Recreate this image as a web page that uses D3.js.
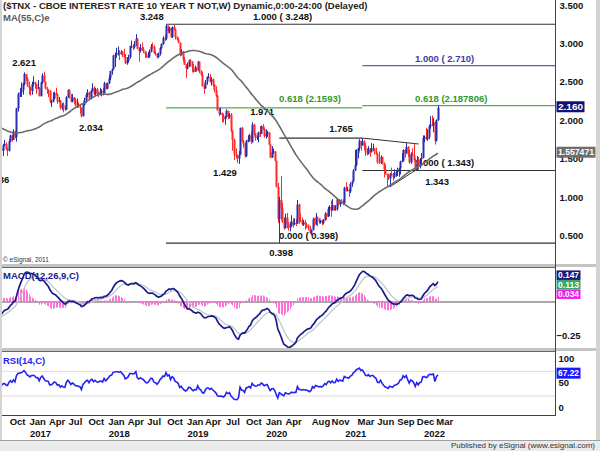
<!DOCTYPE html>
<meta charset="utf-8">
<style>
body { margin: 0; background: #fff; }
svg text { font-family: "Liberation Sans", Arial, sans-serif; font-weight: bold; font-size: 9.5px; }
</style>
<svg width="600" height="451"></svg>
<script src="https://cdn.jsdelivr.net/npm/d3@7/dist/d3.min.js"></script>
<script>

// weekly closes, one per friday starting 2015-08-07 (first year only feeds MA / MACD / RSI)
var firstWeek = new Date(2015, 7, 7);
var drawFrom = 47; // 2016-07-01, first bar with high/low

var closes = [
  // 2015
  2.17,2.20,2.05,2.18, 2.13,2.19,2.13,2.17, 1.99,2.09,2.03,2.08,2.14, 2.33,2.27,2.26,2.22, 2.27,2.13,2.20,2.25,
  // 2016
  2.27,2.12,2.03,2.05,1.93, 1.84,1.74,1.75,1.76, 1.88,1.98,1.87,1.90, 1.78,1.72,1.75,1.89,1.83, 1.78,1.70,1.84,1.85, 1.70,1.64,1.61,1.56,
  1.44,1.36,1.55,1.57,1.45, 1.59,1.51,1.58,1.63, 1.60,1.67,1.69,1.62,1.60, 1.72,1.80,1.74,1.85, 1.78,2.15,2.34,2.36, 2.39,2.47,2.60,2.54,2.45,
  // 2017
  2.42,2.38,2.47,2.49, 2.47,2.41,2.42,2.31, 2.49,2.58,2.50,2.41,2.39, 2.38,2.24,2.24,2.28, 2.35,2.33,2.24,2.25, 2.16,2.20,2.15,2.14,2.30,
  2.39,2.33,2.24,2.29, 2.26,2.19,2.19,2.17, 2.16,2.05,2.20,2.26,2.33, 2.36,2.28,2.38,2.42, 2.34,2.40,2.35,2.34, 2.37,2.38,2.35,2.48,2.41,
  // 2018
  2.48,2.55,2.64,2.66, 2.84,2.85,2.87,2.87, 2.86,2.89,2.85,2.82,2.74, 2.77,2.82,2.96,2.96, 2.95,2.97,3.06,2.93, 2.90,2.94,2.92,2.90,2.86,
  2.82,2.83,2.89,2.96, 2.95,2.87,2.86,2.82,2.86, 2.94,2.99,3.07,3.06, 3.23,3.16,3.20,3.08, 3.21,3.18,3.08,3.05,3.01, 2.85,2.89,2.79,2.72,
  // 2019
  2.67,2.70,2.78,2.76, 2.69,2.63,2.66,2.65, 2.76,2.63,2.59,2.44,2.41, 2.50,2.56,2.56,2.50, 2.53,2.46,2.39,2.32,2.13, 2.08,2.09,2.06,2.01,
  2.04,2.12,2.05,2.07, 1.86,1.74,1.55,1.53,1.50, 1.55,1.90,1.72,1.69, 1.53,1.73,1.75,1.80, 1.71,1.94,1.83,1.77,1.78, 1.84,1.82,1.92,1.88,
  // 2020
  1.79,1.82,1.84,1.68,1.51, 1.58,1.59,1.47,1.13, 0.71,0.96,0.85,0.67, 0.59,0.73,0.65,0.60, 0.62,0.68,0.64,0.66,0.65, 0.90,0.70,0.69,0.64,
  0.67,0.64,0.63,0.59,0.53, 0.57,0.71,0.64,0.74, 0.72,0.67,0.69,0.66, 0.70,0.78,0.74,0.84,0.87, 0.82,0.89,0.83,0.84, 0.97,0.90,0.95,0.94,
  // 2021
  0.92,1.12,1.09,1.09,1.07, 1.17,1.20,1.34,1.41, 1.57,1.63,1.73,1.67, 1.72,1.66,1.58,1.56,1.63, 1.58,1.63,1.63,1.59, 1.56,1.45,1.44,1.52,
  1.43,1.36,1.30,1.28,1.24, 1.30,1.28,1.26,1.31, 1.32,1.34,1.37,1.46, 1.47,1.61,1.57,1.65,1.55, 1.45,1.56,1.54,1.48, 1.35,1.48,1.40,1.49,1.51,
  // 2022
  1.77,1.78,1.75,1.78, 1.92,1.94,1.93,1.97, 1.73,2.00,2.16
];

var highs = [
  1.60,1.47,1.60,1.62,1.60, 1.60,1.60,1.62,1.64, 1.63,1.69,1.74,1.71,1.64, 1.75,1.81,1.80,1.88, 1.86,2.16,2.36,2.42, 2.49,2.49,2.621,2.60,2.56,
  2.50,2.43,2.50,2.57, 2.50,2.47,2.52,2.43, 2.50,2.61,2.63,2.50,2.43, 2.40,2.39,2.26,2.36, 2.37,2.42,2.35,2.30, 2.26,2.22,2.23,2.19,2.31,
  2.40,2.40,2.34,2.34, 2.30,2.29,2.28,2.23, 2.20,2.16,2.21,2.29,2.35, 2.40,2.37,2.39,2.48, 2.44,2.42,2.42,2.37, 2.42,2.40,2.42,2.50,2.48,
  2.49,2.59,2.64,2.67, 2.85,2.88,2.94,2.96, 2.91,2.91,2.90,2.93,2.86, 2.82,2.85,2.97,3.035, 2.99,3.03,3.12,3.07, 2.95,2.99,3.01,2.95,2.90,
  2.88,2.89,2.92,2.99, 3.01,2.98,2.90,2.87,2.88, 2.95,3.00,3.09,3.11, 3.248,3.23,3.21,3.20, 3.22,3.24,3.19,3.09,3.07, 3.01,2.92,2.90,2.82,
  2.73,2.75,2.79,2.79, 2.77,2.73,2.71,2.69, 2.77,2.76,2.65,2.63,2.46, 2.52,2.57,2.61,2.60, 2.56,2.54,2.47,2.44,2.33, 2.16,2.16,2.10,2.08,
  2.05,2.14,2.12,2.09, 2.09,1.87,1.76,1.63,1.55, 1.60,1.90,1.91,1.74, 1.70,1.74,1.80,1.82, 1.85,1.971,1.95,1.83,1.80, 1.85,1.92,1.93,1.95,
  1.90,1.88,1.86,1.84,1.68, 1.66,1.63,1.60,1.47, 1.18,1.00,1.27,0.92, 0.73,0.78,0.79,0.67, 0.67,0.76,0.72,0.72,0.71, 0.96,0.91,0.78,0.73,
  0.70,0.70,0.66,0.64,0.62, 0.57,0.73,0.72,0.79, 0.74,0.72,0.70,0.70, 0.71,0.80,0.79,0.87,0.89, 0.95,0.97,0.89,0.89, 0.98,0.97,0.96,0.97,
  0.97,1.13,1.19,1.13,1.10, 1.19,1.21,1.36,1.61, 1.62,1.64,1.75,1.73, 1.765,1.74,1.70,1.63,1.66, 1.63,1.70,1.69,1.62, 1.64,1.57,1.59,1.54,
  1.52,1.45,1.42,1.30,1.30, 1.31,1.38,1.31,1.36, 1.34,1.38,1.38,1.47, 1.57,1.62,1.62,1.70,1.66, 1.61,1.58,1.63,1.69, 1.50,1.53,1.52,1.50,1.57,
  1.80,1.80,1.90,1.88, 1.94,2.05,2.06,2.03, 1.98,2.01,2.19
];

var lows = [
  1.38,1.336,1.36,1.53,1.45, 1.44,1.50,1.50,1.53, 1.54,1.53,1.66,1.61,1.53, 1.59,1.71,1.72,1.74, 1.76,1.72,2.11,2.30, 2.30,2.33,2.45,2.51,2.43,
  2.33,2.32,2.33,2.44, 2.41,2.34,2.40,2.31, 2.31,2.47,2.49,2.40,2.34, 2.30,2.22,2.17,2.23, 2.27,2.32,2.21,2.23, 2.14,2.13,2.10,2.12,2.13,
  2.29,2.28,2.23,2.23, 2.21,2.18,2.16,2.16, 2.09,2.034,2.05,2.19,2.22, 2.30,2.27,2.27,2.37, 2.32,2.31,2.31,2.30, 2.32,2.31,2.32,2.35,2.40,
  2.40,2.47,2.52,2.59, 2.66,2.69,2.81,2.84, 2.78,2.85,2.82,2.81,2.73, 2.72,2.75,2.80,2.94, 2.91,2.93,2.97,2.92, 2.76,2.88,2.90,2.87,2.81,
  2.81,2.81,2.81,2.88, 2.93,2.86,2.84,2.80,2.81, 2.84,2.92,2.98,3.03, 3.04,3.13,3.13,3.07, 3.07,3.17,3.05,3.04,3.00, 2.83,2.84,2.76,2.72,
  2.55,2.66,2.69,2.70, 2.62,2.62,2.63,2.63, 2.64,2.61,2.58,2.44,2.34, 2.41,2.46,2.55,2.49, 2.45,2.43,2.36,2.30,2.12, 2.05,2.07,1.97,1.97,
  1.94,2.03,2.01,2.02, 1.84,1.60,1.48,1.50,1.44, 1.429,1.55,1.72,1.64, 1.51,1.52,1.71,1.72, 1.69,1.71,1.80,1.73,1.74, 1.71,1.78,1.82,1.87,
  1.77,1.76,1.78,1.67,1.51, 1.51,1.56,1.46,1.12, 0.66,0.398,0.70,0.66, 0.57,0.59,0.59,0.56, 0.55,0.61,0.60,0.63,0.62, 0.65,0.65,0.67,0.63,
  0.62,0.57,0.59,0.56,0.52, 0.50,0.56,0.62,0.63, 0.62,0.65,0.65,0.63, 0.64,0.69,0.70,0.74,0.75, 0.74,0.82,0.82,0.82, 0.82,0.88,0.87,0.91,
  0.89,0.90,1.07,1.07,1.00, 1.05,1.13,1.20,1.34, 1.40,1.50,1.60,1.60, 1.67,1.61,1.53,1.54,1.55, 1.52,1.58,1.60,1.55, 1.55,1.43,1.43,1.43,
  1.42,1.25,1.29,1.13,1.22, 1.128,1.27,1.21,1.24, 1.26,1.27,1.26,1.29, 1.45,1.46,1.51,1.56,1.52, 1.43,1.43,1.53,1.46, 1.343,1.35,1.38,1.37,1.41,
  1.50,1.71,1.74,1.73, 1.75,1.89,1.92,1.84, 1.68,1.72,1.99
];

var priceTicks = [0.5, 1.0, 1.5, 2.0, 2.5, 3.0, 3.5];
var rsiTicks = [0, 50, 100];
var rsiBands = [25, 75];
var macdTicks = [-0.25];

var monthTicks = [
  ["2016-10-01","Oct"],["2017-01-01","Jan"],["2017-04-01","Apr"],["2017-07-01","Jul"],["2017-10-01","Oct"],
  ["2018-01-01","Jan"],["2018-04-01","Apr"],["2018-07-01","Jul"],["2018-10-01","Oct"],
  ["2019-01-01","Jan"],["2019-03-25","Apr"],["2019-07-01","Jul"],["2019-10-01","Oct"],
  ["2020-01-01","Jan"],["2020-04-01","Apr"],["2020-08-01","Aug"],["2020-11-01","Nov"],
  ["2021-03-01","Mar"],["2021-06-01","Jun"],["2021-09-01","Sep"],["2021-12-01","Dec"],["2022-03-01","Mar"]
];
var yearTicks = [["2017-01-01","2017"],["2018-01-01","2018"],["2019-01-01","2019"],["2020-01-01","2020"],["2021-01-01","2021"],["2022-01-01","2022"]];

// swing high / low labels: text, date and price where the label sits
var swingLabels = [
  ["1.336","2016-08-15",1.213],["2.621","2016-12-16",2.731],["2.034","2017-10-22",1.896],
  ["3.248","2018-07-31",3.33],["1.429","2019-07-05",1.304],["1.971","2019-12-24",2.105],
  ["0.398","2020-03-21",0.268],["1.765","2020-12-24",1.877],["1.343","2022-03-14",1.193]
];

// fibonacci levels: price, from, to (null = right edge), colour
var fibLines = [
  [3.248,"2018-10-05",null,"#333"],
  [2.1593,"2018-10-05","2021-04-02","#4cae4c"],
  [0.398,"2018-10-05",null,"#333"],
  [2.187806,"2021-04-02",null,"#4cae4c"],
  [2.710,"2021-04-02",null,"#5a5abf"],
  [1.343,"2021-04-02",null,"#333"],
  [1.765,"2020-03-13","2021-04-02","#333"]
];
var fibLabels = [
  ["1.000 ( 3.248)","2019-11-12",3.336,"#111"],
  ["0.618 (2.1593)","2020-03-12",2.262,"#2f9a2f"],
  ["0.000 ( 0.398)","2020-03-12",0.477,"#111"],
  ["1.000 ( 2.710)","2021-12-02",2.783,"#3c3ca6"],
  ["0.618 (2.187806)","2021-12-02",2.262,"#2f9a2f"],
  ["1.000 ( 1.343)","2021-12-02",1.428,"#111"]
];
// triangle trendlines
var trendLines = [
  [["2021-04-02",1.765],["2021-12-19",1.688]],
  [["2021-08-06",1.128],["2021-12-19",1.372]]
];

var lastPriceLabel = "2.160";
var maLabel = "1.557471";
var macdLabels = [["0.147","#1a1a7e"],["0.113","#3aa86a"],["0.034","#f01ef0"]];
var rsiLabel = "67.22";

var parse = d3.timeParse("%Y-%m-%d");
var weeks = closes.map(function(c, i) { return d3.timeDay.offset(firstWeek, 7 * i); });

// ---- indicators
function ema(arr, n) {
  var k = 2 / (n + 1), prev;
  return arr.map(function(v, i) { prev = i === 0 ? v : v * k + prev * (1 - k); return prev; });
}
var ma = closes.map(function(c, i) { return i < 54 ? null : d3.mean(closes.slice(i - 54, i + 1)); });
var e12 = ema(closes, 12), e26 = ema(closes, 26);
var macd = closes.map(function(c, i) { return e12[i] - e26[i]; });
var signal = ema(macd, 9);
var hist = macd.map(function(m, i) { return m - signal[i]; });
var rsi = [], ag = 0, al = 0;
closes.forEach(function(c, i) {
  if (i === 0) { rsi.push(null); return; }
  var ch = c - closes[i - 1], g = Math.max(ch, 0), l = Math.max(-ch, 0);
  if (i <= 14) { ag += g / 14; al += l / 14; rsi.push(i < 14 ? null : 100 - 100 / (1 + ag / al)); return; }
  ag = (ag * 13 + g) / 14; al = (al * 13 + l) / 14;
  rsi.push(100 - 100 / (1 + ag / al));
});

// ---- layout
var svg = d3.select("svg");
var L = 2, R = 555.5;
var x = d3.scaleTime().domain([new Date(2017, 0, 1), new Date(2022, 0, 1)]).range([27.5, 421.5]);
var y = d3.scaleLinear().domain([0.5, 3.5]).range([235.2, 4.9]);
var ym = d3.scaleLinear().domain([-0.25, 0]).range([336.5, 302]);
var yr = d3.scaleLinear().domain([0, 100]).range([408.3, 359]);

svg.append("rect").attr("width", 600).attr("height", 451).attr("fill", "#d4d4d4");
svg.append("rect").attr("x", L).attr("width", 594).attr("height", 440).attr("fill", "#fff");

var defs = svg.append("defs");
function clip(id, y0, y1) {
  defs.append("clipPath").attr("id", id).append("rect").attr("x", L).attr("y", y0).attr("width", R - L).attr("height", y1 - y0);
  return svg.append("g").attr("clip-path", "url(#" + id + ")");
}
var gMain = clip("cm", 0, 264), gMacd = clip("cd", 268, 348), gRsi = clip("cr", 352, 415);

// ---- main panel
fibLines.forEach(function(f) {
  gMain.append("line")
    .attr("x1", x(parse(f[1]))).attr("x2", f[2] ? x(parse(f[2])) : R)
    .attr("y1", y(f[0])).attr("y2", y(f[0]))
    .attr("stroke", f[3]).attr("stroke-width", 1.2);
});
trendLines.forEach(function(t) {
  gMain.append("line")
    .attr("x1", x(parse(t[0][0]))).attr("y1", y(t[0][1]))
    .attr("x2", x(parse(t[1][0]))).attr("y2", y(t[1][1]))
    .attr("stroke", "#333").attr("stroke-width", 1);
});
fibLabels.forEach(function(f) {
  gMain.append("text").attr("x", x(parse(f[1]))).attr("y", y(f[2]))
    .attr("dominant-baseline", "middle").attr("fill", f[3]).text(f[0]);
});
swingLabels.forEach(function(s) {
  gMain.append("text").attr("x", x(parse(s[1]))).attr("y", y(s[2]))
    .attr("text-anchor", "middle").attr("dominant-baseline", "middle").attr("fill", "#111").text(s[0]);
});

var bars = d3.range(drawFrom, closes.length).map(function(i) {
  return { date: weeks[i], o: closes[i - 1], c: closes[i], h: highs[i - drawFrom], l: lows[i - drawFrom] };
});
var bar = gMain.append("g").selectAll("g").data(bars).enter().append("g")
  .attr("fill", function(d) { return d.c >= d.o ? "#2c2cae" : "#ff2b2b"; })
  .attr("stroke", function(d) { return d.c >= d.o ? "#2c2cae" : "#ff2b2b"; });
bar.append("line")
  .attr("x1", function(d) { return Math.round(x(d.date)) + 0.5; })
  .attr("x2", function(d) { return Math.round(x(d.date)) + 0.5; })
  .attr("y1", function(d) { return y(Math.max(d.h, d.o, d.c)); })
  .attr("y2", function(d) { return y(Math.min(d.l, d.o, d.c)); })
  .attr("stroke-width", 1);
bar.append("rect")
  .attr("x", function(d) { return Math.round(x(d.date)) - 0.5; })
  .attr("width", 2).attr("stroke", "none")
  .attr("y", function(d) { return y(Math.max(d.o, d.c)); })
  .attr("height", function(d) { return Math.max(1, Math.abs(y(d.o) - y(d.c))); });

var maPts = weeks.map(function(w, i) { return [w, ma[i]]; }).filter(function(p) { return p[1] !== null; });
gMain.append("path").datum(maPts)
  .attr("d", d3.line().x(function(p) { return x(p[0]); }).y(function(p) { return y(p[1]); }))
  .attr("fill", "none").attr("stroke", "#6a6a6a").attr("stroke-width", 1.6);

svg.append("text").attr("x", 3).attr("y", 6.5).attr("dominant-baseline", "middle").attr("fill", "#222")
  .text("($TNX - CBOE INTEREST RATE 10 YEAR T NOT,W) Dynamic,0:00-24:00 (Delayed)");
svg.append("text").attr("x", 3).attr("y", 18).attr("dominant-baseline", "middle").attr("fill", "#5a5a5a").text("MA(55,C)e");
svg.append("text").attr("x", 3).attr("y", 260).attr("dominant-baseline", "middle").attr("fill", "#333")
  .style("font-size", "6.5px").style("font-weight", "normal").text("\u00a9 eSignal, 2011");

// ---- macd panel
gMacd.append("line").attr("x1", L).attr("x2", R).attr("y1", ym(0)).attr("y2", ym(0)).attr("stroke", "#555");
gMacd.append("g").selectAll("line").data(d3.range(drawFrom, closes.length)).enter().append("line")
  .attr("x1", function(i) { return Math.round(x(weeks[i])) + 0.5; })
  .attr("x2", function(i) { return Math.round(x(weeks[i])) + 0.5; })
  .attr("y1", ym(0)).attr("y2", function(i) { return ym(hist[i]); })
  .attr("stroke", "#ff6fd8").attr("stroke-width", 1);
var idx = d3.range(drawFrom - 10, closes.length);
gMacd.append("path").datum(idx)
  .attr("d", d3.line().x(function(i) { return x(weeks[i]); }).y(function(i) { return ym(signal[i]); }))
  .attr("fill", "none").attr("stroke", "#b5cdc2").attr("stroke-width", 1.3);
gMacd.append("path").datum(idx)
  .attr("d", d3.line().x(function(i) { return x(weeks[i]); }).y(function(i) { return ym(macd[i]); }))
  .attr("fill", "none").attr("stroke", "#1c1c8c").attr("stroke-width", 1.7);
svg.append("text").attr("x", 3).attr("y", 276).attr("dominant-baseline", "middle").attr("fill", "#1c1c8c").text("MACD(12,26,9,C)");

// ---- rsi panel
rsiBands.forEach(function(b) {
  gRsi.append("line").attr("x1", L).attr("x2", R).attr("y1", yr(b)).attr("y2", yr(b)).attr("stroke", "#dcdcdc");
});
gRsi.append("path").datum(idx)
  .attr("d", d3.line().x(function(i) { return x(weeks[i]); }).y(function(i) { return yr(rsi[i]); }))
  .attr("fill", "none").attr("stroke", "#2424f0").attr("stroke-width", 1.6);
svg.append("text").attr("x", 3).attr("y", 361).attr("dominant-baseline", "middle").attr("fill", "#2424f0").text("RSI(14,C)");

// ---- frames
svg.append("rect").attr("x", L).attr("y", 264).attr("width", 594).attr("height", 3).attr("fill", "#c4c4c4");
svg.append("line").attr("x1", L).attr("x2", R).attr("y1", 267.5).attr("y2", 267.5).attr("stroke", "#666");
svg.append("rect").attr("x", L).attr("y", 348).attr("width", 594).attr("height", 3).attr("fill", "#c4c4c4");
svg.append("line").attr("x1", L).attr("x2", R).attr("y1", 351.5).attr("y2", 351.5).attr("stroke", "#666");
svg.append("line").attr("x1", L).attr("x2", R).attr("y1", 415.5).attr("y2", 415.5).attr("stroke", "#444");
svg.append("line").attr("x1", R).attr("x2", R).attr("y1", 0).attr("y2", 416).attr("stroke", "#444");

// ---- right axes
var ax = R + 4;
svg.append("g").selectAll("text").data(priceTicks).enter().append("text")
  .attr("x", ax).attr("y", function(d) { return y(d) + 1.2; }).attr("dominant-baseline", "middle").attr("fill", "#111")
  .text(d3.format(".3f"));
svg.append("g").selectAll("text").data(macdTicks).enter().append("text")
  .attr("x", R + 1).attr("y", function(d) { return ym(d); }).attr("dominant-baseline", "middle").attr("fill", "#111")
  .text(function(d) { return d3.format(".2f")(d); });
svg.append("g").selectAll("text").data(rsiTicks).enter().append("text")
  .attr("x", ax - 1).attr("y", function(d) { return yr(d); }).attr("dominant-baseline", "middle").attr("fill", "#111")
  .text(String);

function valueBox(text, cy, w, fill, h) {
  h = h || 11;
  svg.append("rect").attr("x", R + 1).attr("y", cy - h / 2).attr("width", w).attr("height", h).attr("fill", fill);
  svg.append("text").attr("x", R + 2.5).attr("y", cy + 0.5).attr("dominant-baseline", "middle").attr("fill", "#fff")
    .attr("textLength", w - 3).attr("lengthAdjust", "spacingAndGlyphs").text(text);
}
valueBox(lastPriceLabel, y(closes[closes.length - 1]) - 1, 28, "#121270");
valueBox(maLabel, y(ma[ma.length - 1]) - 1, 39, "#6e6e6e");
var mb = ym(hist[hist.length - 1]) - 3;
macdLabels.slice().reverse().forEach(function(m, k) { valueBox(m[0], mb - k * 9.5, 24, m[1], 9.5); });
valueBox(rsiLabel, yr(+rsiLabel) - 2, 24, "#1a1aff");

// ---- time axis
svg.append("g").selectAll("text").data(monthTicks).enter().append("text")
  .attr("x", function(d) { return x(parse(d[0])) + 2; }).attr("y", 422.5)
  .attr("dominant-baseline", "middle").attr("fill", "#111").text(function(d) { return d[1]; });
svg.append("g").selectAll("text").data(yearTicks).enter().append("text")
  .attr("x", function(d) { return x(parse(d[0])) + 2.5; }).attr("y", 434)
  .attr("dominant-baseline", "middle").attr("fill", "#111").text(function(d) { return d[1]; });

// ---- footer
svg.append("rect").attr("x", 0).attr("y", 440).attr("width", 600).attr("height", 11).attr("fill", "#ebebeb");
svg.append("line").attr("x1", 0).attr("x2", 600).attr("y1", 440.5).attr("y2", 440.5).attr("stroke", "#a0a0a0");
svg.append("text").attr("x", 595).attr("y", 446).attr("text-anchor", "end").attr("dominant-baseline", "middle")
  .attr("fill", "#333").style("font-size", "8px").style("font-weight", "normal")
  .text("Published by eSignal (www.esignal.com)");
</script>
